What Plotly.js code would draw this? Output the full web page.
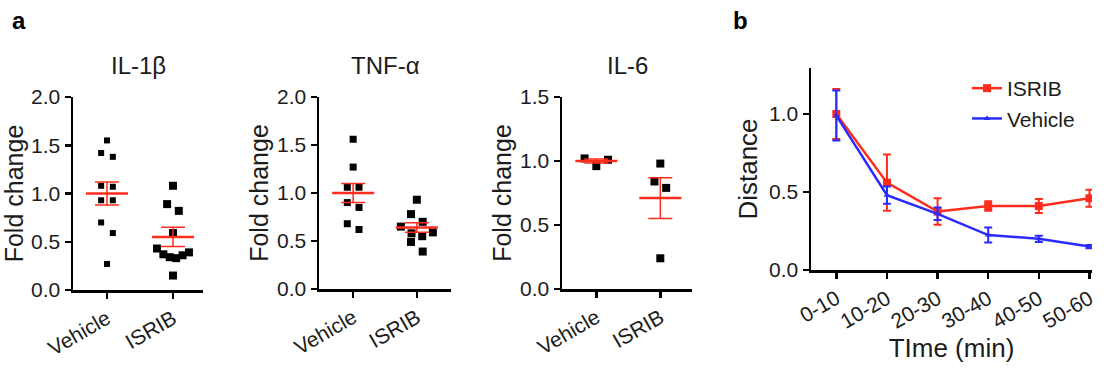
<!DOCTYPE html>
<html>
<head>
<meta charset="utf-8">
<script src="https://cdn.plot.ly/plotly-3.0.1.min.js"></script>
<style>
  html, body { margin: 0; padding: 0; background: #fff; }
  #chart { width: 1109px; height: 370px; }
</style>
</head>
<body>
<div id="chart"></div>
<script>
// ---------------- DATA ----------------
const groups = ['Vehicle', 'ISRIB'];

const il1bVehicle = [1.55, 1.42, 1.38, 1.08, 1.07, 0.93, 0.93, 0.70, 0.59, 0.27];
const il1bIsrib   = [1.08, 0.89, 0.82, 0.59, 0.43, 0.39, 0.37, 0.36, 0.34, 0.33, 0.15];
const il1bMean    = [1.00, 0.55];
const il1bSem     = [0.12, 0.10];

const tnfVehicle  = [1.56, 1.27, 1.06, 1.06, 0.90, 0.85, 0.68, 0.62];
const tnfIsrib    = [0.93, 0.78, 0.70, 0.65, 0.59, 0.58, 0.55, 0.49, 0.39];
const tnfMean     = [1.00, 0.64];
const tnfSem      = [0.10, 0.05];

const il6Vehicle  = [1.02, 1.01, 0.96];
const il6Isrib    = [0.98, 0.84, 0.79, 0.24];
const il6Mean     = [1.00, 0.71];
const il6Sem      = [0.015, 0.16];

const timeBins    = ['0-10', '10-20', '20-30', '30-40', '40-50', '50-60'];
const isribDist   = [1.00, 0.56, 0.375, 0.41, 0.41, 0.46];
const isribErr    = [0.16, 0.18, 0.085, 0.03, 0.045, 0.055];
const vehDist     = [0.99, 0.48, 0.36, 0.224, 0.20, 0.15];
const vehErr      = [0.16, 0.055, 0.04, 0.048, 0.02, 0.01];

// ---------------- LAYOUT CONSTANTS ----------------
const W = 1109, H = 370;
const FONT = 'Liberation Sans, Arial, Helvetica, sans-serif';
const INK = '#1c1c1c';
const RED = '#ff2b1c';
const BLUE = '#2b2bff';
const TICK_SIZE = 21;

function xdom(p0, p1) { return [p0 / W, p1 / W]; }
function ydom(top, bottom) { return [1 - bottom / H, 1 - top / H]; }

const panels = [
  { title: 'IL-1\u03b2', veh: il1bVehicle, isr: il1bIsrib, mean: il1bMean, sem: il1bSem,
    x0: 73, x1: 203, top: 97, bottom: 290, xr: [-0.515, 1.455], yr: [0, 2.0], sizes: [6, 8] },
  { title: 'TNF-\u03b1', veh: tnfVehicle, isr: tnfIsrib, mean: tnfMean, sem: tnfSem,
    x0: 319, x1: 451, top: 97, bottom: 289, xr: [-0.536, 1.536], yr: [0, 2.0], sizes: [7, 8] },
  { title: 'IL-6', veh: il6Vehicle, isr: il6Isrib, mean: il6Mean, sem: il6Sem,
    x0: 562, x1: 692, top: 97, bottom: 289, xr: [-0.536, 1.495], yr: [0, 1.5], sizes: [8, 8] }
];

// GraphPad-like scatter spreading: rows of near-equal values spread sideways
const ROW_PX = 11.5, PAIR_PX = 11.7, MAX_SPREAD = 32;
function swarmOffsets(vals, pxPerY, pxPerX) {
  const idx = vals.map((v, i) => i).sort((a, b) => vals[b] - vals[a]);
  const rows = [];
  let cur = null;
  idx.forEach(i => {
    if (cur && (vals[cur[0]] - vals[i]) * pxPerY < ROW_PX) cur.push(i);
    else { cur = [i]; rows.push(cur); }
  });
  const off = new Array(vals.length).fill(0);
  rows.forEach(r => {
    const n = r.length;
    const sp = n > 1 ? Math.min(PAIR_PX, MAX_SPREAD / (n - 1)) : 0;
    const slots = [];
    let lo = 0, hi = n - 1;
    while (lo <= hi) { slots.push(lo); if (hi !== lo) slots.push(hi); lo++; hi--; }
    r.forEach((i, k) => { off[i] = (slots[k] - (n - 1) / 2) * sp / pxPerX; });
  });
  return off;
}

const traces = [];
const layout = {
  width: W, height: H,
  margin: { l: 0, r: 0, t: 0, b: 0 },
  paper_bgcolor: '#ffffff', plot_bgcolor: 'rgba(0,0,0,0)',
  font: { family: FONT, color: INK, size: TICK_SIZE },
  showlegend: true,
  annotations: [],
  shapes: []
};

function axisCommon() {
  return {
    showline: true, linewidth: 2.5, linecolor: '#000',
    ticks: 'outside', ticklen: 6, tickwidth: 2.5, tickcolor: '#000',
    showgrid: false, zeroline: false, fixedrange: true,
    tickfont: { family: FONT, size: TICK_SIZE, color: INK }
  };
}

panels.forEach((p, k) => {
  const n = k + 1;
  const xa = 'x' + n, ya = 'y' + n;
  const pxPerY = (p.bottom - p.top) / (p.yr[1] - p.yr[0]);
  const pxPerX = (p.x1 - p.x0) / (p.xr[1] - p.xr[0]);
  [p.veh, p.isr].forEach((vals, g) => {
    const off = swarmOffsets(vals, pxPerY, pxPerX);
    traces.push({
      type: 'scatter', mode: 'markers', xaxis: xa, yaxis: ya, showlegend: false,
      x: vals.map((v, i) => g + off[i]), y: vals,
      marker: { symbol: 'square', size: p.sizes[g], color: '#000', line: { width: 0 } },
      hoverinfo: 'y'
    });
  });
  traces.push({
    type: 'scatter', mode: 'markers', xaxis: xa, yaxis: ya, showlegend: false,
    x: groups.map((g, i) => i), y: p.mean,
    marker: { symbol: 'line-ew', size: 30, color: RED, line: { color: RED, width: 2.5 } },
    error_y: { type: 'data', array: p.sem, visible: true, color: RED, thickness: 1.5, width: 12 },
    hoverinfo: 'y'
  });
  layout['xaxis' + n] = Object.assign(axisCommon(), {
    domain: xdom(p.x0, p.x1), range: p.xr, anchor: ya,
    tickmode: 'array', tickvals: [0, 1], ticktext: groups, tickangle: -30
  });
  layout['yaxis' + n] = Object.assign(axisCommon(), {
    domain: ydom(p.top, p.bottom), range: p.yr, anchor: xa,
    tickmode: 'linear', tick0: 0, dtick: 0.5, tickformat: '.1f',
    title: { text: 'Fold change', font: { family: FONT, size: 25, color: INK }, standoff: 2 }
  });
  layout.annotations.push({
    xref: 'paper', yref: 'paper', x: (p.x0 + p.x1) / 2 / W, y: 1 - 66 / H,
    xanchor: 'center', yanchor: 'middle', showarrow: false,
    text: p.title, font: { family: FONT, size: 24, color: INK }
  });
});

// Panel b
traces.push({
  type: 'scatter', mode: 'lines+markers', name: 'ISRIB', xaxis: 'x4', yaxis: 'y4',
  x: timeBins.map((t, i) => i), y: isribDist,
  line: { color: RED, width: 2.5 },
  marker: { symbol: 'square', size: 8, color: RED },
  error_y: { type: 'data', array: isribErr, visible: true, color: RED, thickness: 2, width: 4 }
});
traces.push({
  type: 'scatter', mode: 'lines+markers', name: 'Vehicle', xaxis: 'x4', yaxis: 'y4',
  x: timeBins.map((t, i) => i), y: vehDist,
  line: { color: BLUE, width: 2.5 },
  marker: { symbol: 'triangle-up', size: 6, color: BLUE },
  error_y: { type: 'data', array: vehErr, visible: true, color: BLUE, thickness: 2, width: 4 }
});
layout.xaxis4 = Object.assign(axisCommon(), {
  domain: xdom(811, 1092), range: [-0.5, 5.05], anchor: 'y4',
  tickmode: 'array', tickvals: timeBins.map((t, i) => i), ticktext: timeBins, tickangle: -30,
  title: { text: 'TIme (min)', font: { family: FONT, size: 26, color: INK }, standoff: 6 }
});
layout.yaxis4 = Object.assign(axisCommon(), {
  domain: ydom(68, 270), range: [0, 1.295], anchor: 'x4',
  tickmode: 'array', tickvals: [0, 0.5, 1.0], tickformat: '.1f',
  title: { text: 'Distance', font: { family: FONT, size: 26, color: INK }, standoff: 4 }
});
layout.legend = {
  x: 967 / W, y: 1 - 68 / H, xanchor: 'left', yanchor: 'top',
  bgcolor: 'rgba(0,0,0,0)', borderwidth: 0,
  font: { family: FONT, size: 21, color: INK }, tracegroupgap: 0
};

// panel letters
layout.annotations.push({ xref: 'paper', yref: 'paper', x: 10 / W, y: 1 - 21 / H, xanchor: 'left', yanchor: 'middle',
  showarrow: false, text: '<b>a</b>', font: { family: FONT, size: 24, color: '#000' } });
layout.annotations.push({ xref: 'paper', yref: 'paper', x: 731 / W, y: 1 - 21 / H, xanchor: 'left', yanchor: 'middle',
  showarrow: false, text: '<b>b</b>', font: { family: FONT, size: 24, color: '#000' } });

Plotly.newPlot('chart', traces, layout, { displayModeBar: false, staticPlot: true });
</script>
</body>
</html>
